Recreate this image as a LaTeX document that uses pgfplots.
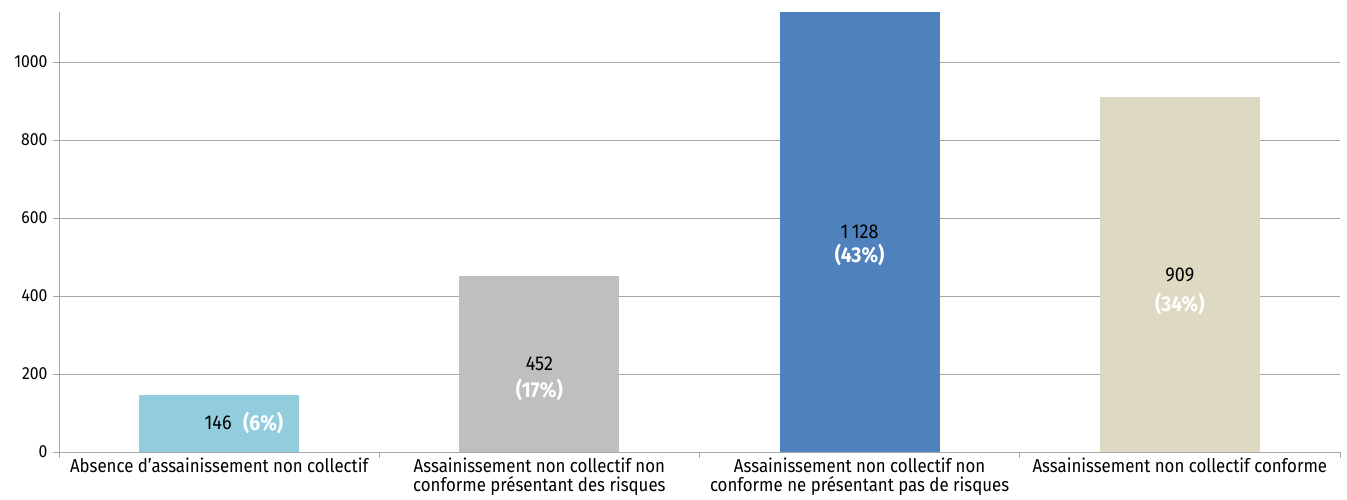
\documentclass[border=0pt]{standalone}
\usepackage{pgfplots}
\pgfplotsset{compat=1.18}
\usepackage{fontspec}
\setmainfont{Fira Sans}[FakeStretch=0.9]
\definecolor{cA}{HTML}{93CDDD}
\definecolor{cB}{HTML}{BFBFBF}
\definecolor{cC}{HTML}{4F81BD}
\definecolor{cD}{HTML}{DDD9C3}
\definecolor{gridc}{HTML}{A6A6A6}
\begin{document}
\begin{tikzpicture}[x=1pt,y=1pt]
\useasboundingbox (-59pt,-48pt) rectangle (1288pt,452pt);
\begin{axis}[
  at={(0,0)}, anchor=south west,
  scale only axis, width=1281pt, height=440pt,
  xmin=-0.5, xmax=3.5, ymin=0, ymax=1128,
  axis x line*=bottom, axis y line*=left,
  axis line style={gridc, line width=0.8pt},
  ybar, bar width=0.5, bar shift=0pt,
  ytick={0,200,400,600,800,1000},
  ymajorgrids, grid style={gridc, line width=0.8pt},
  major tick length=6pt,
  tick style={gridc, line width=0.8pt},
  ytick align=outside,
  xtick={0,1,2,3},
  major x tick style={draw=none},
  minor xtick={-0.5,0.5,1.5,2.5,3.5},
  minor tick length=6pt,
  xtick align=outside,
  minor x tick style={gridc, line width=0.8pt},
  xticklabels={{Absence d'assainissement non collectif},
    {Assainissement non collectif non\\conforme présentant des risques},
    {Assainissement non collectif non\\conforme ne présentant pas de risques},
    {Assainissement non collectif conforme}},
  xticklabel style={align=center, font=\fontsize{18.7}{18.5}\selectfont, anchor=north, yshift=2pt, inner sep=2pt},
  yticklabel style={font=\fontsize{17.5}{20}\selectfont, xshift=-2pt},
  /pgf/number format/assume math mode=true,
  /pgf/number format/1000 sep={},
]
\addplot[fill=cA, draw=none] coordinates {(0,146)};
\addplot[fill=cB, draw=none] coordinates {(1,452)};
\addplot[fill=cC, draw=none] coordinates {(2,1128)};
\addplot[fill=cD, draw=none] coordinates {(3,909)};
\node[font=\fontsize{20}{22}\selectfont] at (axis cs:-0.003,74) {146};
\node[font=\fontsize{21.5}{22}\selectfont\bfseries, text=white] at (axis cs:0.1375,74) {(6\%)};
\node[font=\fontsize{20}{22}\selectfont] at (axis cs:1,227) {452};
\node[font=\fontsize{21.5}{22}\selectfont\bfseries, text=white] at (axis cs:1,159) {(17\%)};
\node[font=\fontsize{20}{22}\selectfont] at (axis cs:2,564) {1\,128};
\node[font=\fontsize{21.5}{22}\selectfont\bfseries, text=white] at (axis cs:2,505) {(43\%)};
\node[font=\fontsize{20}{22}\selectfont] at (axis cs:3,455) {909};
\node[font=\fontsize{21.5}{22}\selectfont\bfseries, text=white] at (axis cs:3,380) {(34\%)};
\end{axis}
\end{tikzpicture}
\end{document}
